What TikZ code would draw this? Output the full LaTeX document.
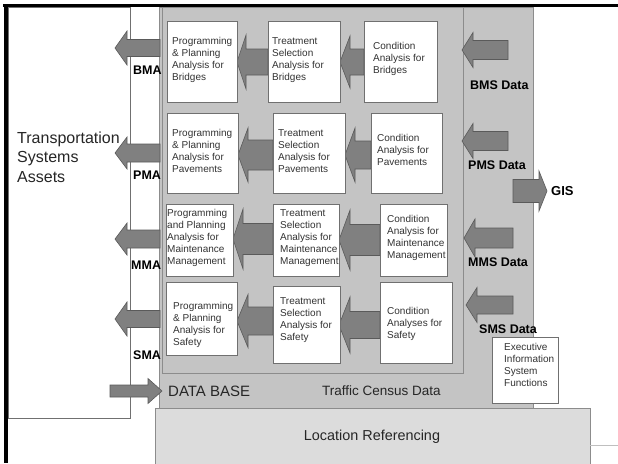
\documentclass[tikz,border=0pt]{standalone}
\usepackage{fontspec}
\setmainfont{Liberation Sans}

\definecolor{panel}{HTML}{C4C4C4}
\definecolor{panelline}{HTML}{8C8C8C}
\definecolor{locfill}{HTML}{DCDCDC}
\definecolor{arrowgray}{HTML}{808080}
\definecolor{arrowedge}{HTML}{5A5A5A}
\definecolor{boxline}{HTML}{707070}
\definecolor{modtxt}{HTML}{333333}

% white module box given by its corners (x1,y1) and (x2,y2)
\newcommand\modulebox[5]{%
  \node[modbox, minimum width={#4-#2}, minimum height={#5-#3}] (#1)
    at ({(#2+#4)/2},{(#3+#5)/2}) {};}
% fat arrow pointing left: tip x, tail x, centre y, head half-height, shaft half-height, head length
\newcommand\fatleft[6]{%
  \draw[fat] (#1,#3) -- (#1+#6,#3-#4) -- (#1+#6,#3-#5) -- (#2,#3-#5)
    -- (#2,#3+#5) -- (#1+#6,#3+#5) -- (#1+#6,#3+#4) -- cycle;}
% fat arrow pointing right: tip x, tail x, centre y, head half-height, shaft half-height, head length
\newcommand\fatright[6]{%
  \draw[fat] (#1,#3) -- (#1-#6,#3-#4) -- (#1-#6,#3-#5) -- (#2,#3-#5)
    -- (#2,#3+#5) -- (#1-#6,#3+#5) -- (#1-#6,#3+#4) -- cycle;}

\begin{document}
\begin{tikzpicture}[x=1pt,y=-1pt,
  modbox/.style={draw=boxline, fill=white, line width=0.8pt, inner sep=0pt},
  modtext/.style={anchor=west, align=left, inner sep=0pt, text=modtxt,
    font=\fontsize{10}{12}\selectfont},
  lbl/.style={anchor=west, inner sep=0pt, font=\bfseries\fontsize{12.5}{14}\selectfont},
  fat/.style={fill=arrowgray, draw=arrowedge, line width=0.6pt, line join=miter},
  bigtext/.style={inner sep=0pt, text=black!85}
]
\useasboundingbox (0,0) rectangle (618,463);
\fill[white] (0,0) rectangle (618,463);

% assets panel on the left
\draw[boxline, line width=0.8pt, fill=white] (8,7) rectangle (130,418);

% database panel and the analysis grid inside it
\draw[panelline, line width=0.8pt, fill=panel] (159,7) rectangle (533,408);
\draw[panelline, line width=0.8pt, fill=panel] (162,7) rectangle (463,373);

% location referencing base
\draw[panelline, line width=0.8pt, fill=locfill] (155,408) rectangle (590,468);
\draw[black!25, line width=0.6pt] (590,445) -- (618,445);

% arrows between analysis steps
\fatleft{237}{268}{62}{27}{13}{9}
\fatleft{340}{364}{62}{26}{13}{10}
\fatleft{238}{273}{155}{27}{15}{10}
\fatleft{345}{371}{155}{27}{14}{10}
\fatleft{233}{273}{239}{30}{15.5}{10}
\fatleft{339}{380}{240}{30}{15.5}{11}
\fatleft{237}{273}{321}{26.5}{14}{11}
\fatleft{339}{380}{325}{28}{13.5}{11}

% analysis modules
\modulebox{pb}{167}{21}{237}{102}
\modulebox{tb}{268}{21}{340}{102}
\modulebox{cb}{364}{21}{437}{102}
\modulebox{pp}{167}{113}{238}{193}
\modulebox{tp}{273}{113}{345}{193}
\modulebox{cp}{371}{113}{442}{193}
\modulebox{pm}{166}{204}{233}{276}
\modulebox{tm}{273}{204}{339}{276}
\modulebox{cm}{380}{204}{447}{276}
\modulebox{ps}{166}{282}{237}{355}
\modulebox{ts}{273}{286}{340}{363}
\modulebox{cs}{380}{282}{452}{363}

\node[modtext] (pbt) at (172,60) {Programming\\\& Planning\\Analysis for\\Bridges};
\node[modtext] (tbt) at (272,60) {Treatment\\Selection\\Analysis for\\Bridges};
\node[modtext] (cbt) at (373,59) {Condition\\Analysis for\\Bridges};
\node[modtext] (ppt) at (172,151) {Programming\\\& Planning\\Analysis for\\Pavements};
\node[modtext] (tpt) at (278,151) {Treatment\\Selection\\Analysis for\\Pavements};
\node[modtext] (cpt) at (377,150) {Condition\\Analysis for\\Pavements};
\node[modtext] (pmt) at (167,238) {Programming\\and Planning\\Analysis for\\Maintenance\\Management};
\node[modtext] (tmt) at (280,238) {Treatment\\Selection\\Analysis for\\Maintenance\\Management};
\node[modtext] (cmt) at (387,238) {Condition\\Analysis for\\Maintenance\\Management};
\node[modtext] (pst) at (173,325) {Programming\\\& Planning\\Analysis for\\Safety};
\node[modtext] (tst) at (280,320) {Treatment\\Selection\\Analysis for\\Safety};
\node[modtext] (cst) at (387,324) {Condition\\Analyses for\\Safety};

% analysis results leaving towards the assets
\fatleft{115}{160}{48}{17}{8.5}{12}
\fatleft{115}{160}{153}{16}{9}{12}
\fatleft{115}{160}{239}{16}{9}{12}
\fatleft{115}{160}{319}{17}{8.5}{12}

% data feeds entering from the right
\fatleft{462}{508}{50}{17.5}{9.5}{11}
\fatleft{462}{508}{141}{17.5}{9.5}{11}
\fatleft{464}{513}{238}{19}{10}{11}
\fatleft{466}{513}{305}{17.5}{9}{11}

% GIS output and database input
\fatright{547}{513}{191}{20}{11.5}{8}
\fatright{162}{110}{391}{12.5}{6}{14}

% labels
\node[lbl] (bma) at (133,70) {BMA};
\node[lbl] (pma) at (133,175) {PMA};
\node[lbl] (mma) at (131,265) {MMA};
\node[lbl] (sma) at (133,355) {SMA};
\node[lbl] (bms) at (470,85) {BMS Data};
\node[lbl] (pms) at (468,165) {PMS Data};
\node[lbl] (mms) at (468,262) {MMS Data};
\node[lbl] (sms) at (479,329) {SMS Data};
\node[lbl, font=\bfseries\fontsize{13}{15}\selectfont] (gis) at (551,191) {GIS};

\node[bigtext, anchor=west, align=left, font=\fontsize{16}{19.5}\selectfont] (assets)
  at (17,157) {Transportation\\Systems\\Assets};
\node[bigtext, anchor=west, font=\fontsize{15}{17}\selectfont] (db) at (168,391) {DATA BASE};
\node[bigtext, anchor=west, font=\fontsize{13.5}{16}\selectfont] (tcd) at (322,391) {Traffic Census Data};
\node[bigtext, font=\fontsize{14.4}{17}\selectfont] (loc) at (372,437) {Location Referencing};

% executive information box
\modulebox{eis}{492}{337}{558}{403}
\node[modtext] (eist) at (504,365) {Executive\\Information\\System\\Functions};

% page frame
\draw[black, line width=3pt] (3,5.8) -- (618,5.8);
\draw[black, line width=4pt] (5.5,4) -- (5.5,463);
\end{tikzpicture}
\end{document}
